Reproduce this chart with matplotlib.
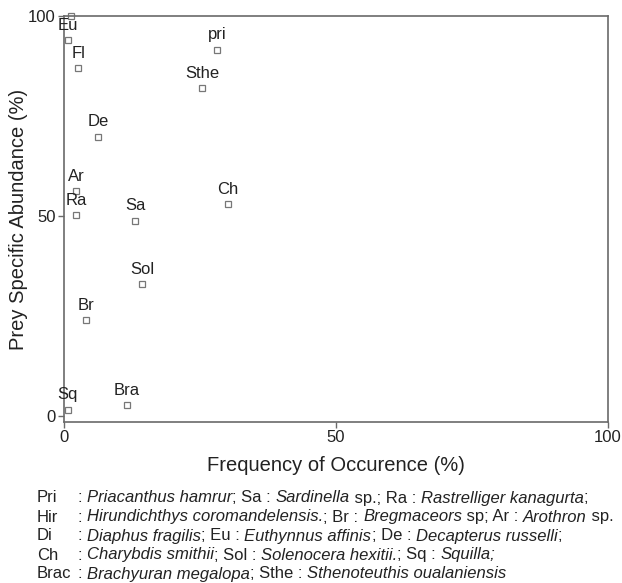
import matplotlib
matplotlib.use("Agg")
import matplotlib.pyplot as plt

plt.rcParams['font.family'] = ['Liberation Sans', 'DejaVu Sans']

# Data
labels = ["", "Eu", "Fl", "pri", "Sthe", "De", "Ar", "Ra", "Sa", "Ch", "Sol", "Br", "Bra", "Sq"]
freq = [1.3, 0.7, 2.6, 28.1, 25.4, 6.3, 2.2, 2.2, 13.1, 30.1, 14.4, 4.1, 11.6, 0.7]
abund = [100.0, 94.0, 86.9, 91.6, 81.9, 69.8, 56.2, 50.2, 48.8, 53.0, 32.9, 24.0, 2.7, 1.5]

xticks = [0, 50, 100]
yticks = [0, 50, 100]

# key lines: text between underscores is italic
key_abbr = ["Pri", "Hir", "Di", "Ch", "Brac"]
key_text = [
    ": _Priacanthus hamrur_; Sa : _Sardinella_ sp.; Ra : _Rastrelliger kanagurta_;",
    ": _Hirundichthys coromandelensis._; Br : _Bregmaceors_ sp; Ar : _Arothron_ sp.",
    ": _Diaphus fragilis_; Eu : _Euthynnus affinis_; De : _Decapterus russelli_;",
    ": _Charybdis smithii_; Sol : _Solenocera hexitii._; Sq : _Squilla;_",
    ": _Brachyuran megalopa_; Sthe : _Sthenoteuthis oualaniensis_",
]

W, H = 622, 583
fig = plt.figure(figsize=(W / 100, H / 100), dpi=100)
ax = fig.add_axes([64 / W, 1 - 422 / H, (608 - 64) / W, (422 - 16) / H])

spine_c = "#6a6a6a"
text_c = "#222222"

ax.plot(freq, abund, linestyle="none", marker="s", markersize=4.6,
        markerfacecolor="white", markeredgecolor="#777777", markeredgewidth=0.9,
        clip_on=False)
for lab, x, y in zip(labels, freq, abund):
    if lab:
        ax.annotate(lab, (x, y), xytext=(0, 10.8), textcoords="offset points",
                    ha="center", va="center", fontsize=12, color=text_c)

ax.set_xlim(0, 100)
ax.set_ylim(-1.5, 100)
ax.set_xticks(xticks)
ax.set_yticks(yticks)
ax.tick_params(axis="both", direction="out", length=4, width=1, color=spine_c,
               labelsize=12, labelcolor=text_c, pad=2)
ax.tick_params(top=False, right=False)
for s in ax.spines.values():
    s.set_color(spine_c)
    s.set_linewidth(1.2)

ax.set_xlabel("Frequency of Occurence (%)", fontsize=14.5, color=text_c, labelpad=8)
ax.set_ylabel("Prey Specific Abundance (%)", fontsize=14.5, color=text_c, labelpad=0)

renderer = fig.canvas.get_renderer()


def text_width(s, style):
    t1 = fig.text(0, 0, s + "|", fontsize=12, style=style)
    t2 = fig.text(0, 0, "|", fontsize=12, style=style)
    w = t1.get_window_extent(renderer).width - t2.get_window_extent(renderer).width
    t1.remove()
    t2.remove()
    return w


ys = [498, 517, 536, 555, 574]
for a, t, yy in zip(key_abbr, key_text, ys):
    fy = 1 - yy / H
    fig.text(37 / W, fy, a, fontsize=12, color=text_c, va="center", ha="left")
    xpix = 78.0
    for i, seg in enumerate(t.split("_")):
        if not seg:
            continue
        style = "italic" if i % 2 == 1 else "normal"
        fig.text(xpix / W, fy, seg, fontsize=12, style=style, color=text_c,
                 va="center", ha="left")
        xpix += text_width(seg, style)

fig.savefig("out.png", dpi=100)
